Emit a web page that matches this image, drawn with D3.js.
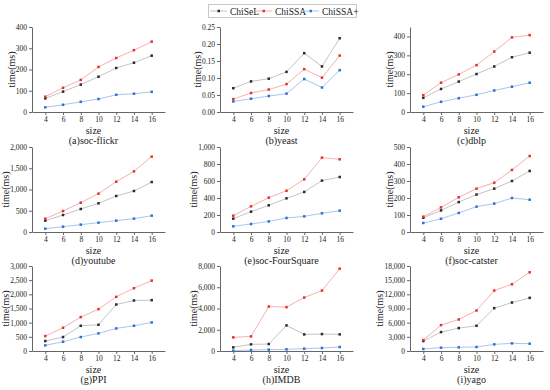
<!DOCTYPE html>
<html><head><meta charset="utf-8">
<script src="https://cdn.jsdelivr.net/npm/d3@7"></script>
<style>body{margin:0;background:#fff}svg{display:block}text{font-family:"Liberation Serif","Times New Roman",serif;fill:#222}</style>
</head><body><svg id="c" width="550" height="390"></svg>
<script>
const sizes = [4, 6, 8, 10, 12, 14, 16];
const xTicks = [4, 6, 8, 10, 12, 14, 16];
const seriesNames = ["ChiSeL", "ChiSSA", "ChiSSA+"];
const titles = ["(a)soc-flickr","(b)yeast","(c)dblp","(d)youtube","(e)soc-FourSquare","(f)soc-catster","(g)PPI","(h)IMDB","(i)yago"];
const yMax  = [400, 0.25, 450, 2000, 1000, 500, 3000, 8000, 18000];
const yStep = [100, 0.05, 100, 500, 200, 100, 500, 2000, 3000];

const chiSeL = [
  [64, 96, 129, 166, 207, 232, 265],
  [0.070, 0.090, 0.098, 0.118, 0.173, 0.134, 0.217],
  [75, 122, 161, 201, 241, 290, 314],
  [267, 400, 541, 675, 847, 965, 1176],
  [157, 239, 314, 396, 471, 604, 647],
  [84, 127, 176, 220, 255, 300, 359],
  [352, 492, 891, 926, 1641, 1782, 1794],
  [344, 625, 656, 2406, 1563, 1594, 1563],
  [2110, 4008, 4852, 5344, 9071, 10266, 11251]
];
const chiSSA = [
  [72, 114, 151, 212, 254, 291, 331],
  [0.038, 0.056, 0.066, 0.082, 0.126, 0.101, 0.166],
  [89, 155, 199, 248, 320, 395, 407],
  [314, 494, 690, 902, 1184, 1427, 1773],
  [192, 302, 404, 486, 620, 875, 855],
  [90, 145, 204, 255, 290, 365, 447],
  [528, 821, 1196, 1477, 1911, 2216, 2485],
  [1281, 1375, 4188, 4125, 5031, 5688, 7750],
  [2320, 5485, 6680, 8579, 12798, 14135, 16667]
];
const chiSSAplus = [
  [22, 34, 48, 61, 81, 86, 95],
  [0.031, 0.039, 0.047, 0.054, 0.097, 0.072, 0.123],
  [28, 54, 73, 91, 114, 134, 155],
  [78, 125, 173, 220, 267, 314, 384],
  [67, 94, 125, 165, 184, 220, 251],
  [53, 78, 112, 149, 167, 200, 190],
  [199, 328, 492, 621, 797, 891, 1008],
  [31, 94, 125, 156, 219, 281, 375],
  [422, 703, 774, 844, 1406, 1617, 1547]
];

const markerCol = ["#2b2b2b", "#e8302c", "#2e6fd8"];
const lineCol = ["#c4c4c4", "#f6b1b1", "#a9c7ef"];
const allSeries = [chiSeL, chiSSA, chiSSAplus];

const svg = d3.select("#c");
const colX = [32, 220, 410];
const rowY = [27, 147, 266];
const pw = 133, ph = 85;
const axisCol = "#666";

titles.forEach((title, i) => {
  const r = Math.floor(i / 3), c = i % 3;
  const g = svg.append("g").attr("transform", `translate(${colX[c]},${rowY[r]})`);
  const x = d3.scaleLinear().domain([2.5, 17.5]).range([0, pw]);
  const y = d3.scaleLinear().domain([0, yMax[i]]).range([ph, 0]);
  const yt = d3.range(0, yMax[i] + yStep[i] * 0.01, yStep[i]);
  const fmt = yMax[i] < 1 ? d3.format(".2f") : d3.format(",");

  const xa = g.append("g").attr("transform", `translate(0,${ph})`)
    .call(d3.axisBottom(x).tickValues(xTicks).tickSize(3).tickSizeOuter(0).tickPadding(2));
  const ya = g.append("g")
    .call(d3.axisLeft(y).tickValues(yt).tickFormat(fmt).tickSize(3).tickSizeOuter(0).tickPadding(2));
  [xa, ya].forEach(a => {
    a.select(".domain").attr("stroke", axisCol);
    a.selectAll(".tick line").attr("stroke", axisCol);
    a.selectAll("text").attr("font-size", 7.5).attr("font-family", '"Liberation Serif",serif').attr("fill", "#222");
  });
  let maxW = 0;
  ya.selectAll("text").each(function(){ maxW = Math.max(maxW, this.getComputedTextLength()); });

  g.append("text").attr("transform", `translate(${-5 - maxW - 1},${ph/2}) rotate(-90)`)
    .attr("text-anchor", "middle").attr("font-size", 10).text("time(ms)");
  g.append("text").attr("x", pw/2 - 5).attr("y", ph + 22).attr("text-anchor", "middle")
    .attr("font-size", 10).text("size");
  g.append("text").attr("x", pw/2 - 5).attr("y", ph + 32).attr("text-anchor", "middle")
    .attr("font-size", 10).text(title);

  allSeries.forEach((ser, s) => {
    const vals = ser[i];
    const line = d3.line().x((d, k) => x(sizes[k])).y(d => y(d));
    g.append("path").datum(vals).attr("d", line).attr("fill", "none")
      .attr("stroke", lineCol[s]).attr("stroke-width", 1);
    g.selectAll(null).data(vals).enter().append("rect")
      .attr("x", (d, k) => x(sizes[k]) - 1.25).attr("y", d => y(d) - 1.25)
      .attr("width", 2.5).attr("height", 2.5).attr("fill", markerCol[s]);
  });
});

// legend
const lg = svg.append("g");
lg.append("rect").attr("x", 208.5).attr("y", 4.5).attr("width", 148).attr("height", 13)
  .attr("fill", "#fff").attr("stroke", "#c8c8c8");
const legX = [210, 255, 302];
seriesNames.forEach((n, s) => {
  lg.append("line").attr("x1", legX[s]).attr("x2", legX[s] + 17).attr("y1", 11).attr("y2", 11)
    .attr("stroke", lineCol[s]);
  lg.append("rect").attr("x", legX[s] + 7.5).attr("y", 9.75).attr("width", 2.5).attr("height", 2.5)
    .attr("fill", markerCol[s]);
  lg.append("text").attr("x", legX[s] + 20).attr("y", 14.5).attr("font-size", 9.5).text(n);
});
</script></body></html>
